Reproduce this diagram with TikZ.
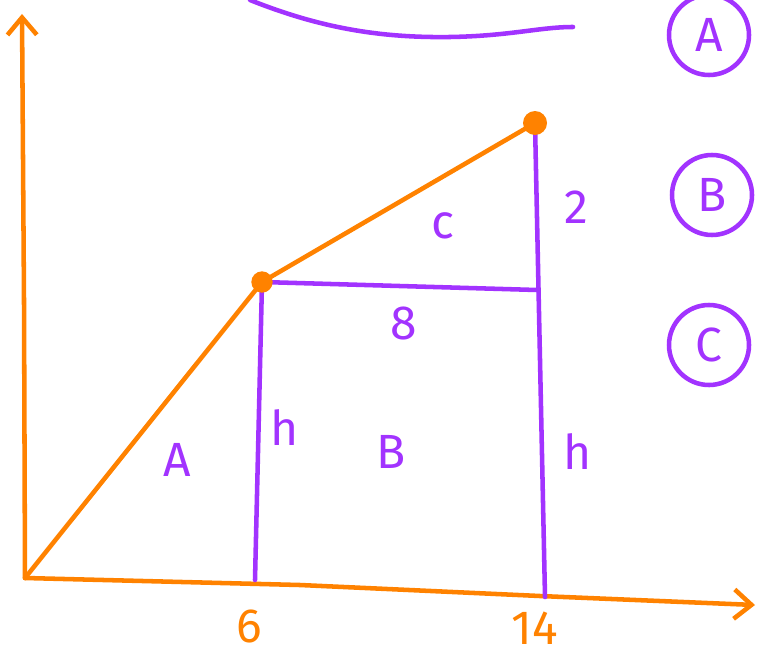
\documentclass[tikz,border=0pt]{standalone}
\usepackage{fontspec}
\setmainfont{Fira Sans}
\usetikzlibrary{positioning,arrows.meta}
\definecolor{pen}{HTML}{FF8200}
\definecolor{ink}{HTML}{A233FF}

\begin{document}
\begin{tikzpicture}[
  x=0.75pt,y=-0.75pt,
  font=\fontsize{36}{36}\selectfont,
  axis/.style={draw=pen,line width=3.4pt,line cap=round,line join=round},
  seg/.style={draw=ink,line width=3.4pt,line cap=round},
  lbl/.style={text=ink,inner sep=0pt},
  tick/.style={text=pen,inner sep=0pt},
  tag/.style={circle,draw=ink,line width=3.4pt,text=ink,minimum size=60pt,inner sep=0pt},
  arr/.style={-{Straight Barb[length=13pt,width=22pt,line width=3.4pt]}}
]
\useasboundingbox (0,0) rectangle (759,660);
% points of the sketch
\coordinate (o) at (25,578);
\coordinate (p) at (262,282);
\coordinate (q) at (535,123);
\coordinate (ytop) at (22,14);
\coordinate (xend) at (755,605);
\coordinate (foot6) at (255,580);
\coordinate (foot14) at (545,597);
\coordinate (corner) at (537,290);
% axes
\draw[axis,arr] (o) -- (24,300) -- (ytop);
\draw[axis,arr] (o) -- (300,585) -- (540,596) -- (xend);
% purple segments
\draw[seg] (p) -- (foot6);
\draw[seg] (p) -- (corner);
\draw[seg] (q) -- (foot14);
% orange graph
\draw[axis] (o) -- (p) -- (q);
\fill[pen] (p) circle (8pt);
\fill[pen] (q) circle (9pt);
% top curve
\draw[seg] (250,0) .. controls (320,28) and (380,38) .. (450,37) .. controls (510,36) and (540,27) .. (573,27);
% labels
\node[lbl] (two) at (576,207) {2};
\node[lbl] (c) at (443,226) {c};
\node[lbl] (eight) at (404,323) {8};
\node[lbl] (h1) at (285,428) {h};
\node[lbl] (b) at (391,452) {B};
\node[lbl] (h2) at (578,452) {h};
\node[lbl] (a) at (177,460) {A};
\node[tick] (six) at (249,626) {6};
\node[tick] (fourteen) at (535,628) {14};
% circled tags
\node[tag] (tagA) at (709,35) {A};
\node[tag] (tagB) at (712,195) {B};
\node[tag] (tagC) at (709,345) {C};
\end{tikzpicture}
\end{document}
